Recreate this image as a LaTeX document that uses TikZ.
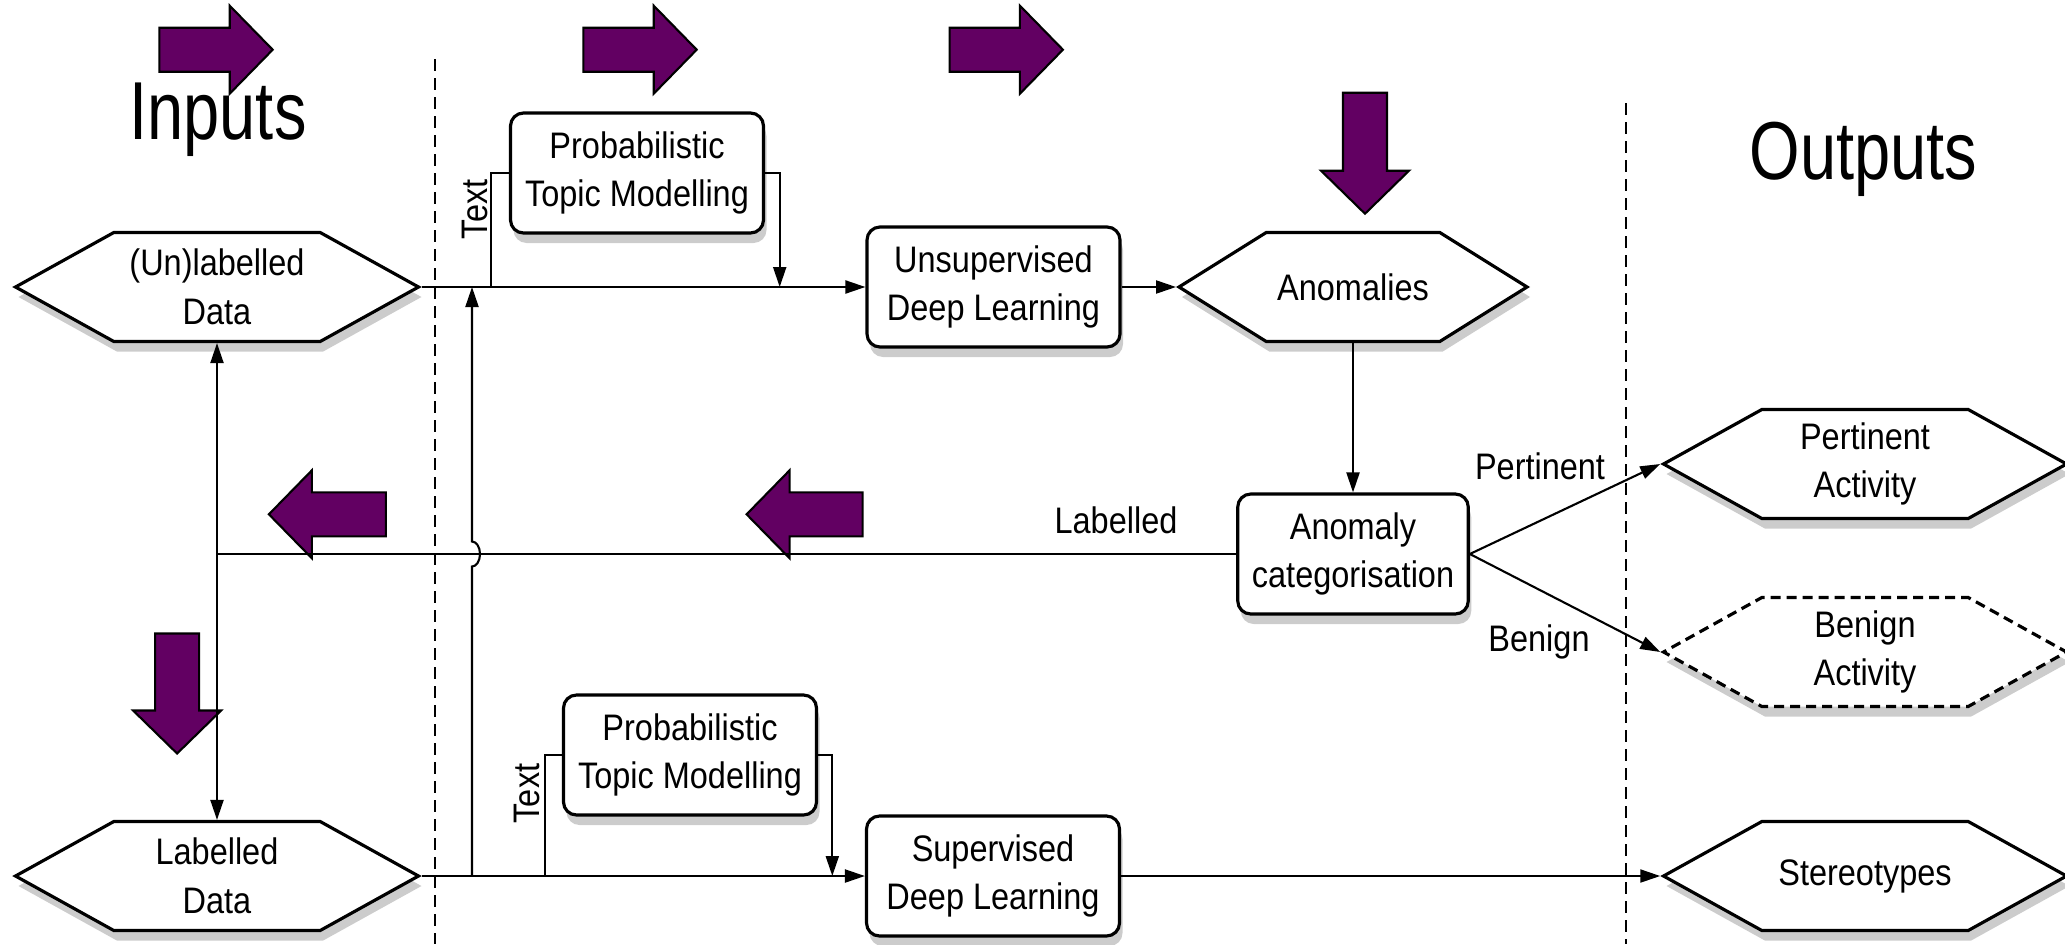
\documentclass[tikz,border=0pt]{standalone}
\usepackage{fontspec}
\setmainfont[FakeStretch=0.88]{Liberation Sans}
\newfontfamily\headfont[FakeStretch=0.79]{Liberation Sans}
\usetikzlibrary{positioning,arrows.meta,shapes.symbols,shadows}
\definecolor{flowpurple}{RGB}{98,0,98}

\begin{document}
\begin{tikzpicture}[
    every node/.style={font=\fontsize{10.5}{13.8}\selectfont, align=center},
    procbox/.style={draw, line width=0.9pt, rounded corners=1.3mm, fill=white,
        minimum width=2.53cm, minimum height=1.2cm, inner sep=1pt,
        drop shadow={opacity=0.4, shadow xshift=0.3mm, shadow yshift=-1mm}},
    databox/.style={signal, signal to=east and west, signal pointer angle=58,
        draw, line width=0.9pt, fill=white, minimum width=4.03cm,
        minimum height=1.09cm, inner sep=1pt,
        drop shadow={opacity=0.4, shadow xshift=0.3mm, shadow yshift=-1mm}},
    heading/.style={font=\headfont\fontsize{23.4}{28}\selectfont},
    flow/.style={-{Triangle[length=2mm, width=1.3mm]}, line width=0.6pt},
    twoway/.style={{Triangle[length=2mm, width=1.3mm]}-{Triangle[length=2mm, width=1.3mm]}, line width=0.6pt},
    plain/.style={line width=0.6pt},
    divider/.style={dash pattern=on 1.2mm off 0.7mm, line width=0.5pt},
    pics/bigarrow/.style={code={
        \draw[fill=flowpurple, line width=0.6pt] (0,-0.22) -- (#1-0.43,-0.22) -- (#1-0.43,-0.44)
            -- (#1,0) -- (#1-0.43,0.44) -- (#1-0.43,0.22) -- (0,0.22) -- cycle;}}
]
\useasboundingbox (0,0) rectangle (20.65,-9.44);

% column dividers
\draw[divider] (4.35,-0.59) -- (4.35,-9.44);
\draw[divider] (16.26,-1.03) -- (16.26,-9.44);

% purple direction arrows
\foreach \x in {1.594,5.834,9.496}
    \pic at (\x,-0.497) {bigarrow=1.133};
\pic[rotate=-90] at (13.65,-0.927) {bigarrow=1.21};
\pic[rotate=-90] at (1.771,-6.335) {bigarrow=1.2};
\pic[rotate=180] at (3.859,-5.143) {bigarrow=1.17};
\pic[rotate=180] at (8.626,-5.143) {bigarrow=1.16};

\node[heading] (inputs) at (2.18,-1.2) {Inputs};
\node[heading] (outputs) at (18.635,-1.597) {Outputs};

\node[databox] (udata) at (2.17,-2.87) {(Un)labelled\\Data};
\node[databox] (ldata) at (2.17,-8.76) {Labelled\\Data};
\node[procbox] (ptm1) at (6.37,-1.73) {Probabilistic\\Topic Modelling};
\node[procbox] (usdl) at (9.935,-2.87) {Unsupervised\\Deep Learning};
\node[databox, minimum width=3.48cm, signal pointer angle=64] (anom) at (13.53,-2.87) {Anomalies};
\node[procbox, minimum width=2.305cm] (cat) at (13.53,-5.54) {Anomaly\\categorisation};
\node[databox] (pert) at (18.65,-4.64) {Pertinent\\Activity};
\node[databox, dash pattern=on 1mm off 0.6mm] (benign) at (18.65,-6.52) {Benign\\Activity};
\node[procbox] (ptm2) at (6.90,-7.55) {Probabilistic\\Topic Modelling};
\node[procbox] (sdl) at (9.93,-8.76) {Supervised\\Deep Learning};
\node[databox] (stereo) at (18.65,-8.76) {Stereotypes};

\node[rotate=90] (txt1) at (4.748,-2.094) {Text};
\node[rotate=90] (txt2) at (5.265,-7.935) {Text};
\node (lablab) at (11.16,-5.20) {Labelled};
\node (pertlab) at (15.40,-4.66) {Pertinent};
\node (benlab) at (15.39,-6.42) {Benign};

\coordinate (tin1) at (4.91,-2.87);
\coordinate (tout1) at (7.797,-2.87);
\coordinate (tin2) at (5.452,-8.76);
\coordinate (tout2) at (8.323,-8.76);
\coordinate (upfoot) at (4.72,-8.76);
\coordinate (hop) at (4.72,-5.665);
\coordinate (uphead) at (4.72,-2.87);
\coordinate (junction) at (2.17,-5.54);

% top row
\draw[flow] (udata.east) -- (usdl.west);
\draw[plain] (tin1) |- (ptm1.west);
\draw[flow] (ptm1.east) -| (tout1);
\draw[flow] (usdl.east) -- (anom.west);
\draw[flow] (anom.south) -- (cat.north);
\draw[flow] (cat.east) -- (pert.west);
\draw[flow] (cat.east) -- (benign.west);

% feedback of labelled anomalies
\draw[plain] (cat.west) -- (junction);
\draw[twoway] (udata.south) -- (ldata.north);
\draw[flow] (upfoot) -- (hop) arc[start angle=-90, end angle=90, x radius=0.08, y radius=0.125] -- (uphead);

% bottom row
\draw[flow] (ldata.east) -- (sdl.west);
\draw[plain] (tin2) |- (ptm2.west);
\draw[flow] (ptm2.east) -| (tout2);
\draw[flow] (sdl.east) -- (stereo.west);
\end{tikzpicture}
\end{document}
